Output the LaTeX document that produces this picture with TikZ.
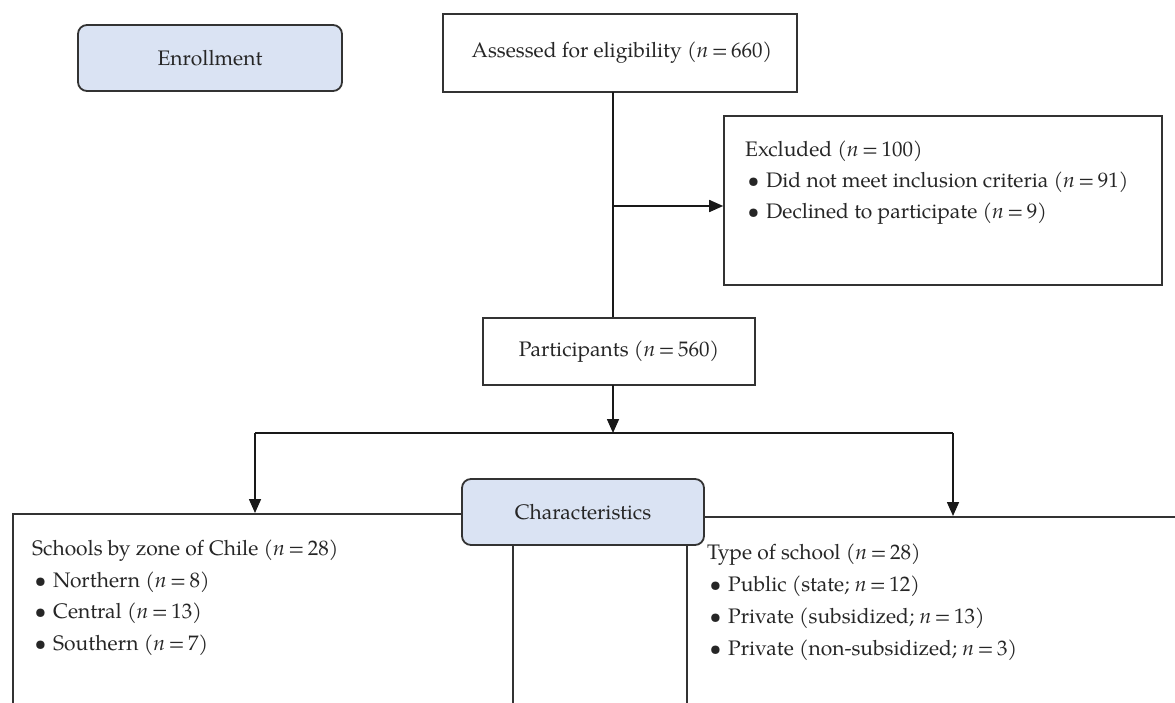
\documentclass[tikz,border=0pt]{standalone}
\usepackage{fontspec}
\setmainfont{TeX Gyre Pagella}
\usetikzlibrary{arrows.meta,calc}
\definecolor{boxblue}{HTML}{DAE3F3}
\definecolor{linegray}{HTML}{333333}
\newcommand{\bul}{\makebox[21pt][l]{\hspace{2.5pt}\textbullet}}
\newcommand{\nn}{\textit{n}\,=\,}
\begin{document}
\begin{tikzpicture}[x=1pt,y=-1pt,
  every node/.style={font=\fontsize{21}{31.5}\selectfont, text=black!85, inner sep=0pt},
  plainbox/.style={draw=linegray, line width=1.6pt, rectangle},
  bluebox/.style={draw=linegray, line width=1.8pt, rounded corners=9pt, fill=boxblue},
  conn/.style={draw=black!90, line width=1.6pt},
  arr/.style={conn, -{Triangle[length=14pt,width=12pt]}},
  listtext/.style={anchor=base west, align=left},
]
\clip (0,0) rectangle (1175,702);
\fill[white] (0,0) rectangle (1175,702);

\node[bluebox, minimum width=264pt, minimum height=66pt] (enroll) at (210,58) {Enrollment};
\node[plainbox, minimum width=354pt, minimum height=78pt] (assess) at (620,53) {\hspace{4pt}Assessed for eligibility (\nn 660)};
\node[plainbox, minimum width=438pt, minimum height=169pt] (excl) at (943,200.5) {};
\node[listtext, font=\fontsize{21}{30.7}\selectfont] (excltext) at (745,218) {Excluded (\nn 100)\\ \bul Did not meet inclusion criteria (\nn 91)\\ \bul Declined to participate (\nn 9)};
\node[plainbox, minimum width=272pt, minimum height=67pt] (part) at (619,351.5) {Participants (\nn 560)};

\node[plainbox, anchor=north west, minimum width=674pt, minimum height=260pt] (zone) at (12,513) {};
\node[plainbox, anchor=north west, minimum width=700pt, minimum height=260pt] (type) at (512,516) {};
\node[bluebox, minimum width=242pt, minimum height=66pt] (charac) at (583,512) {Characteristics};

\node[listtext] (zonetext) at (32,650) {Schools by zone of Chile (\nn 28)\\ \bul Northern (\nn 8)\\ \bul Central (\nn 13)\\ \bul Southern (\nn 7)};
\node[listtext, font=\fontsize{21}{32}\selectfont] (typetext) at (707,655) {Type of school (\nn 28)\\ \bul Public (state; \nn 12)\\ \bul Private (subsidized; \nn 13)\\ \bul Private (non-subsidized; \nn 3)};

\coordinate (top) at (613,92);
\draw[conn] (top) -- (top |- part.north);
\coordinate (branch) at (613,206);
\draw[arr] (branch) -- (branch -| excl.west);
\coordinate (pbot) at (613,385);
\coordinate (split) at (613,433);
\draw[arr] (pbot) -- (split);
\coordinate (lc) at (255,433);
\coordinate (rc) at (953,433);
\draw[conn] (lc) -- (rc);
\draw[arr] (lc) -- (lc |- zone.north);
\draw[arr] (rc) -- (rc |- type.north);
\end{tikzpicture}
\end{document}
